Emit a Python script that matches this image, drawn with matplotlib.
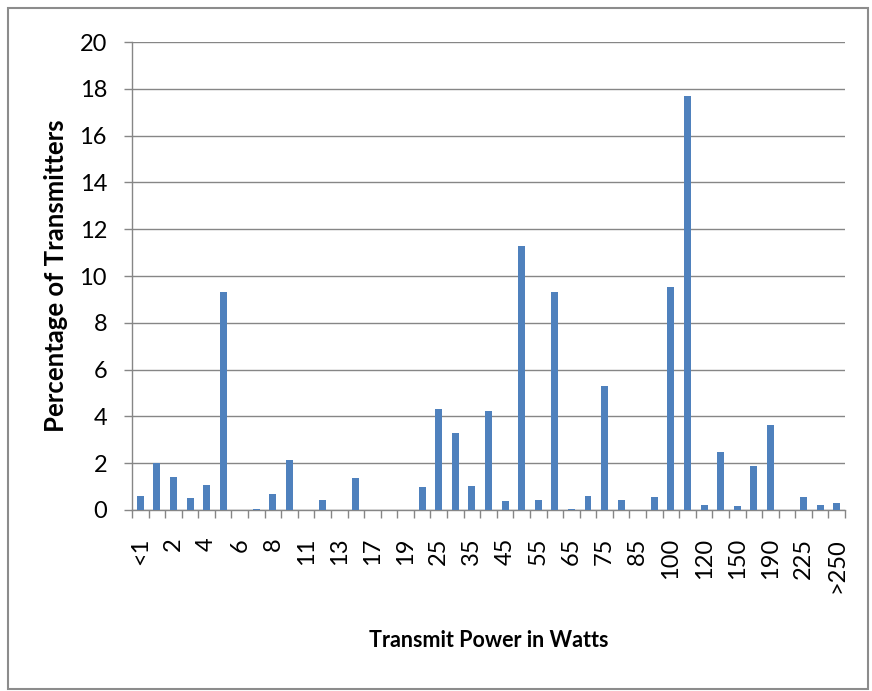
import matplotlib.pyplot as plt
from matplotlib.patches import Rectangle
from matplotlib.ticker import FixedLocator

plt.rcParams["font.family"] = ["Lato", "DejaVu Sans"]

# 发射功率类别（每隔一个显示标签）
categories = ['<1', '1', '2', '3', '4', '5', '6', '7', '8', '10',
              '11', '12', '13', '15', '17', '18', '19', '20', '25', '30',
              '35', '40', '45', '50', '55', '60', '65', '70', '75', '80',
              '85', '90', '100', '110', '120', '130', '150', '175', '190', '200',
              '225', '250', '>250']
percent = [0.6, 2.0, 1.4, 0.5, 1.05, 9.3, 0.0, 0.06, 0.67, 2.13,
           0.0, 0.42, 0.0, 1.35, 0.0, 0.0, 0.0, 0.97, 4.3, 3.3,
           1.03, 4.25, 0.37, 11.3, 0.42, 9.3, 0.06, 0.61, 5.3, 0.42,
           0.0, 0.54, 9.55, 17.7, 0.22, 2.5, 0.17, 1.88, 3.65, 0.0,
           0.54, 0.22, 0.3]
y_ticks = [0, 2, 4, 6, 8, 10, 12, 14, 16, 18, 20]

grey = '#868686'

fig = plt.figure(figsize=(8.72, 6.91), dpi=100)
ax = fig.add_axes([132 / 872, 181 / 691, 713 / 872, 468 / 691])

x = list(range(len(categories)))
ax.bar(x, percent, width=0.42, color='#4F81BD', zorder=3)

ax.set_xlim(-0.5, len(categories) - 0.5)
ax.set_ylim(0, 20)
ax.set_yticks(y_ticks)
ax.yaxis.grid(True, color=grey, linewidth=1.0, zorder=0)

# 标签在类别中心，刻度线在类别之间
ax.set_xticks(x[::2])
ax.set_xticklabels(categories[::2], rotation=90, fontsize=17)
ax.xaxis.set_minor_locator(FixedLocator([i - 0.5 for i in range(len(categories) + 1)]))
ax.tick_params(axis='x', which='major', length=0, pad=20)
ax.tick_params(axis='x', which='minor', length=6, color=grey, width=1)
ax.tick_params(axis='y', which='major', length=6, color=grey, width=1, labelsize=17, pad=12)

for s in ['top', 'right']:
    ax.spines[s].set_visible(False)
for s in ['left', 'bottom']:
    ax.spines[s].set_color(grey)
    ax.spines[s].set_linewidth(1.0)

ax.set_ylabel('Percentage of Transmitters', fontsize=18.5, fontweight='bold', labelpad=8)
ax.set_xlabel('Transmit Power in Watts', fontsize=15.5, fontweight='bold', labelpad=27)

# 外框
fig.patches.append(Rectangle((8 / 872, 2 / 691), 860 / 872, 681 / 691, transform=fig.transFigure,
                             fill=False, edgecolor='#8c8c8c', linewidth=1.5))

fig.savefig('out.png', dpi=100)
